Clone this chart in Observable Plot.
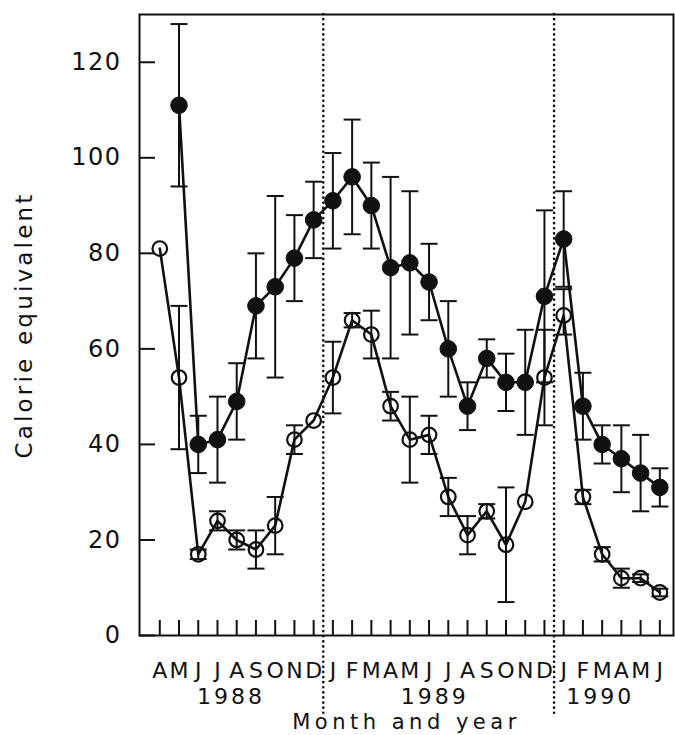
<!DOCTYPE html>
<html>
<head>
<meta charset="utf-8">
<script src="https://cdn.jsdelivr.net/npm/d3@7"></script>
<script src="https://cdn.jsdelivr.net/npm/@observablehq/plot@0.6"></script>
<style>
  html, body { margin: 0; padding: 0; background: #fff; }
  #chart svg { display: block; font-family: "DejaVu Sans", sans-serif; }
</style>
</head>
<body>
<div id="chart"></div>
<script>
// Month tick labels (April 1988 .. June 1990)
const months = ["A","M","J","J","A","S","O","N","D",
                "J","F","M","A","M","J","J","A","S","O","N","D",
                "J","F","M","A","M","J"];
const years = ["1988", "1989", "1990"];
const yearCenters = [3.7, 14.3, 22.9];   // month index under which each year label sits
const yearBreaks = [8.5, 20.5];          // Dec/Jan boundaries (dotted lines)
const yTicks = [0, 20, 40, 60, 80, 100, 120];
const xTitle = "Month and year";
const yTitle = "Calorie equivalent";

// Filled-circle series (mean, lower, upper)
const filled   = [null,111,40,41,49,69,73,79,87,91,96,90,77,78,74,60,48,58,53,53,71,83,48,40,37,34,31];
const filledLo = [null, 94,34,32,41,58,54,70,79,81,84,81,58,63,66,50,43,54,47,42,53,73,41,36,30,26,27];
const filledHi = [null,128,46,50,57,80,92,88,95,101,108,99,96,93,82,70,53,62,59,64,89,93,55,44,44,42,35];

// Open-circle series (mean, lower, upper)
const open   = [81,54,17,24,20,18,23,41,45,54,66,63,48,41,42,29,21,26,19,28,54,67,29,17,12,12,9];
const openLo = [null,39,16,22,18,14,17,38,null,46.5,64.5,58,45,32,38,25,17,24.5,7,null,44,63,27.5,15.5,10,11.2,8.2];
const openHi = [null,69,18,26,22,22,29,44,null,61.5,67.5,68,51,50,46,33,25,27.5,31,null,64,72.5,30.5,18.5,14,12.8,9.8];

const rows = months.map((m, i) => ({
  i, filled: filled[i], filledLo: filledLo[i], filledHi: filledHi[i],
  open: open[i], openLo: openLo[i], openHi: openHi[i]
}));
const fRows = rows.filter(d => d.filled != null);
const fBars = rows.filter(d => d.filledLo != null);
const oBars = rows.filter(d => d.openLo != null);

const capSymbol = {
  draw(ctx, size) {
    const r = Math.sqrt(size / Math.PI);
    ctx.moveTo(-r, 0);
    ctx.lineTo(r, 0);
  }
};

const ink = "#111";
const W = 675, H = 735, mT = 14, mB = 100, mL = 139, mR = 2;
const frameW = W - mL - mR, frameH = H - mT - mB;

const chart = Plot.plot({
  width: W, height: H,
  marginTop: mT, marginBottom: mB, marginLeft: mL, marginRight: mR,
  style: {fontFamily: "DejaVu Sans, sans-serif", background: "#fff", color: ink},
  x: {domain: [-1.055, 26.71], axis: null},
  y: {domain: [0, 130], axis: null},
  marks: [
    // dotted year boundaries
    Plot.ruleX(yearBreaks, {x: d => d, stroke: ink, strokeWidth: 2.6, strokeDasharray: "0.1,5", strokeLinecap: "round", insetBottom: -80}),
    // inward ticks
    Plot.ruleX(months, {x: (d, i) => i, stroke: ink, strokeWidth: 2, insetTop: frameH - 15}),
    Plot.ruleY(yTicks, {y: d => d, stroke: ink, strokeWidth: 2, insetRight: frameW - 16}),
    Plot.frame({stroke: ink, strokeWidth: 2}),
    // error bars
    Plot.ruleX(fBars, {x: "i", y1: "filledLo", y2: "filledHi", stroke: ink, strokeWidth: 2}),
    Plot.dot(fBars, {x: "i", y: "filledLo", symbol: capSymbol, r: 8.5, stroke: ink, strokeWidth: 2, fill: "none"}),
    Plot.dot(fBars, {x: "i", y: "filledHi", symbol: capSymbol, r: 8.5, stroke: ink, strokeWidth: 2, fill: "none"}),
    Plot.ruleX(oBars, {x: "i", y1: "openLo", y2: "openHi", stroke: ink, strokeWidth: 2}),
    Plot.dot(oBars, {x: "i", y: "openLo", symbol: capSymbol, r: 8.5, stroke: ink, strokeWidth: 2, fill: "none"}),
    Plot.dot(oBars, {x: "i", y: "openHi", symbol: capSymbol, r: 8.5, stroke: ink, strokeWidth: 2, fill: "none"}),
    // lines
    Plot.line(fRows, {x: "i", y: "filled", stroke: ink, strokeWidth: 2.6}),
    Plot.line(rows, {x: "i", y: "open", stroke: ink, strokeWidth: 2.6}),
    // markers
    Plot.dot(fRows, {x: "i", y: "filled", r: 8.3, fill: ink, stroke: ink, strokeWidth: 1}),
    Plot.dot(rows, {x: "i", y: "open", r: 7.3, fill: "none", stroke: ink, strokeWidth: 2.2}),
    // labels
    Plot.text(yTicks, {y: d => d, text: d => String(d), frameAnchor: "left", dx: -18, textAnchor: "end", fontSize: 24, fill: ink}),
    Plot.text(months, {x: (d, i) => i, frameAnchor: "bottom", dy: 42, lineAnchor: "bottom", textAnchor: "middle", fontSize: 22, fill: ink}),
    Plot.text(years, {x: (d, i) => yearCenters[i], frameAnchor: "bottom", dy: 68, lineAnchor: "bottom", textAnchor: "middle", fontSize: 22, fill: ink}),
    Plot.text([xTitle], {frameAnchor: "bottom", dy: 93, lineAnchor: "bottom", textAnchor: "middle", fontSize: 21, fill: ink}),
    Plot.text([yTitle], {frameAnchor: "left", dx: -115, rotate: -90, textAnchor: "middle", lineAnchor: "middle", fontSize: 23, fill: ink})
  ]
});

// letter spacing to mimic the wide lettering of the original
d3.select(chart).selectAll("text").each(function() {
  const t = this.textContent;
  let ls = null;
  if (t === xTitle) ls = 4.5;
  else if (t === yTitle) ls = 3.2;
  else if (years.includes(t)) ls = 3;
  else if (/^\d+$/.test(t)) ls = 1.5;
  if (ls != null) {
    this.style.letterSpacing = ls + "px";
  }
});

document.getElementById("chart").appendChild(chart);
</script>
</body>
</html>
